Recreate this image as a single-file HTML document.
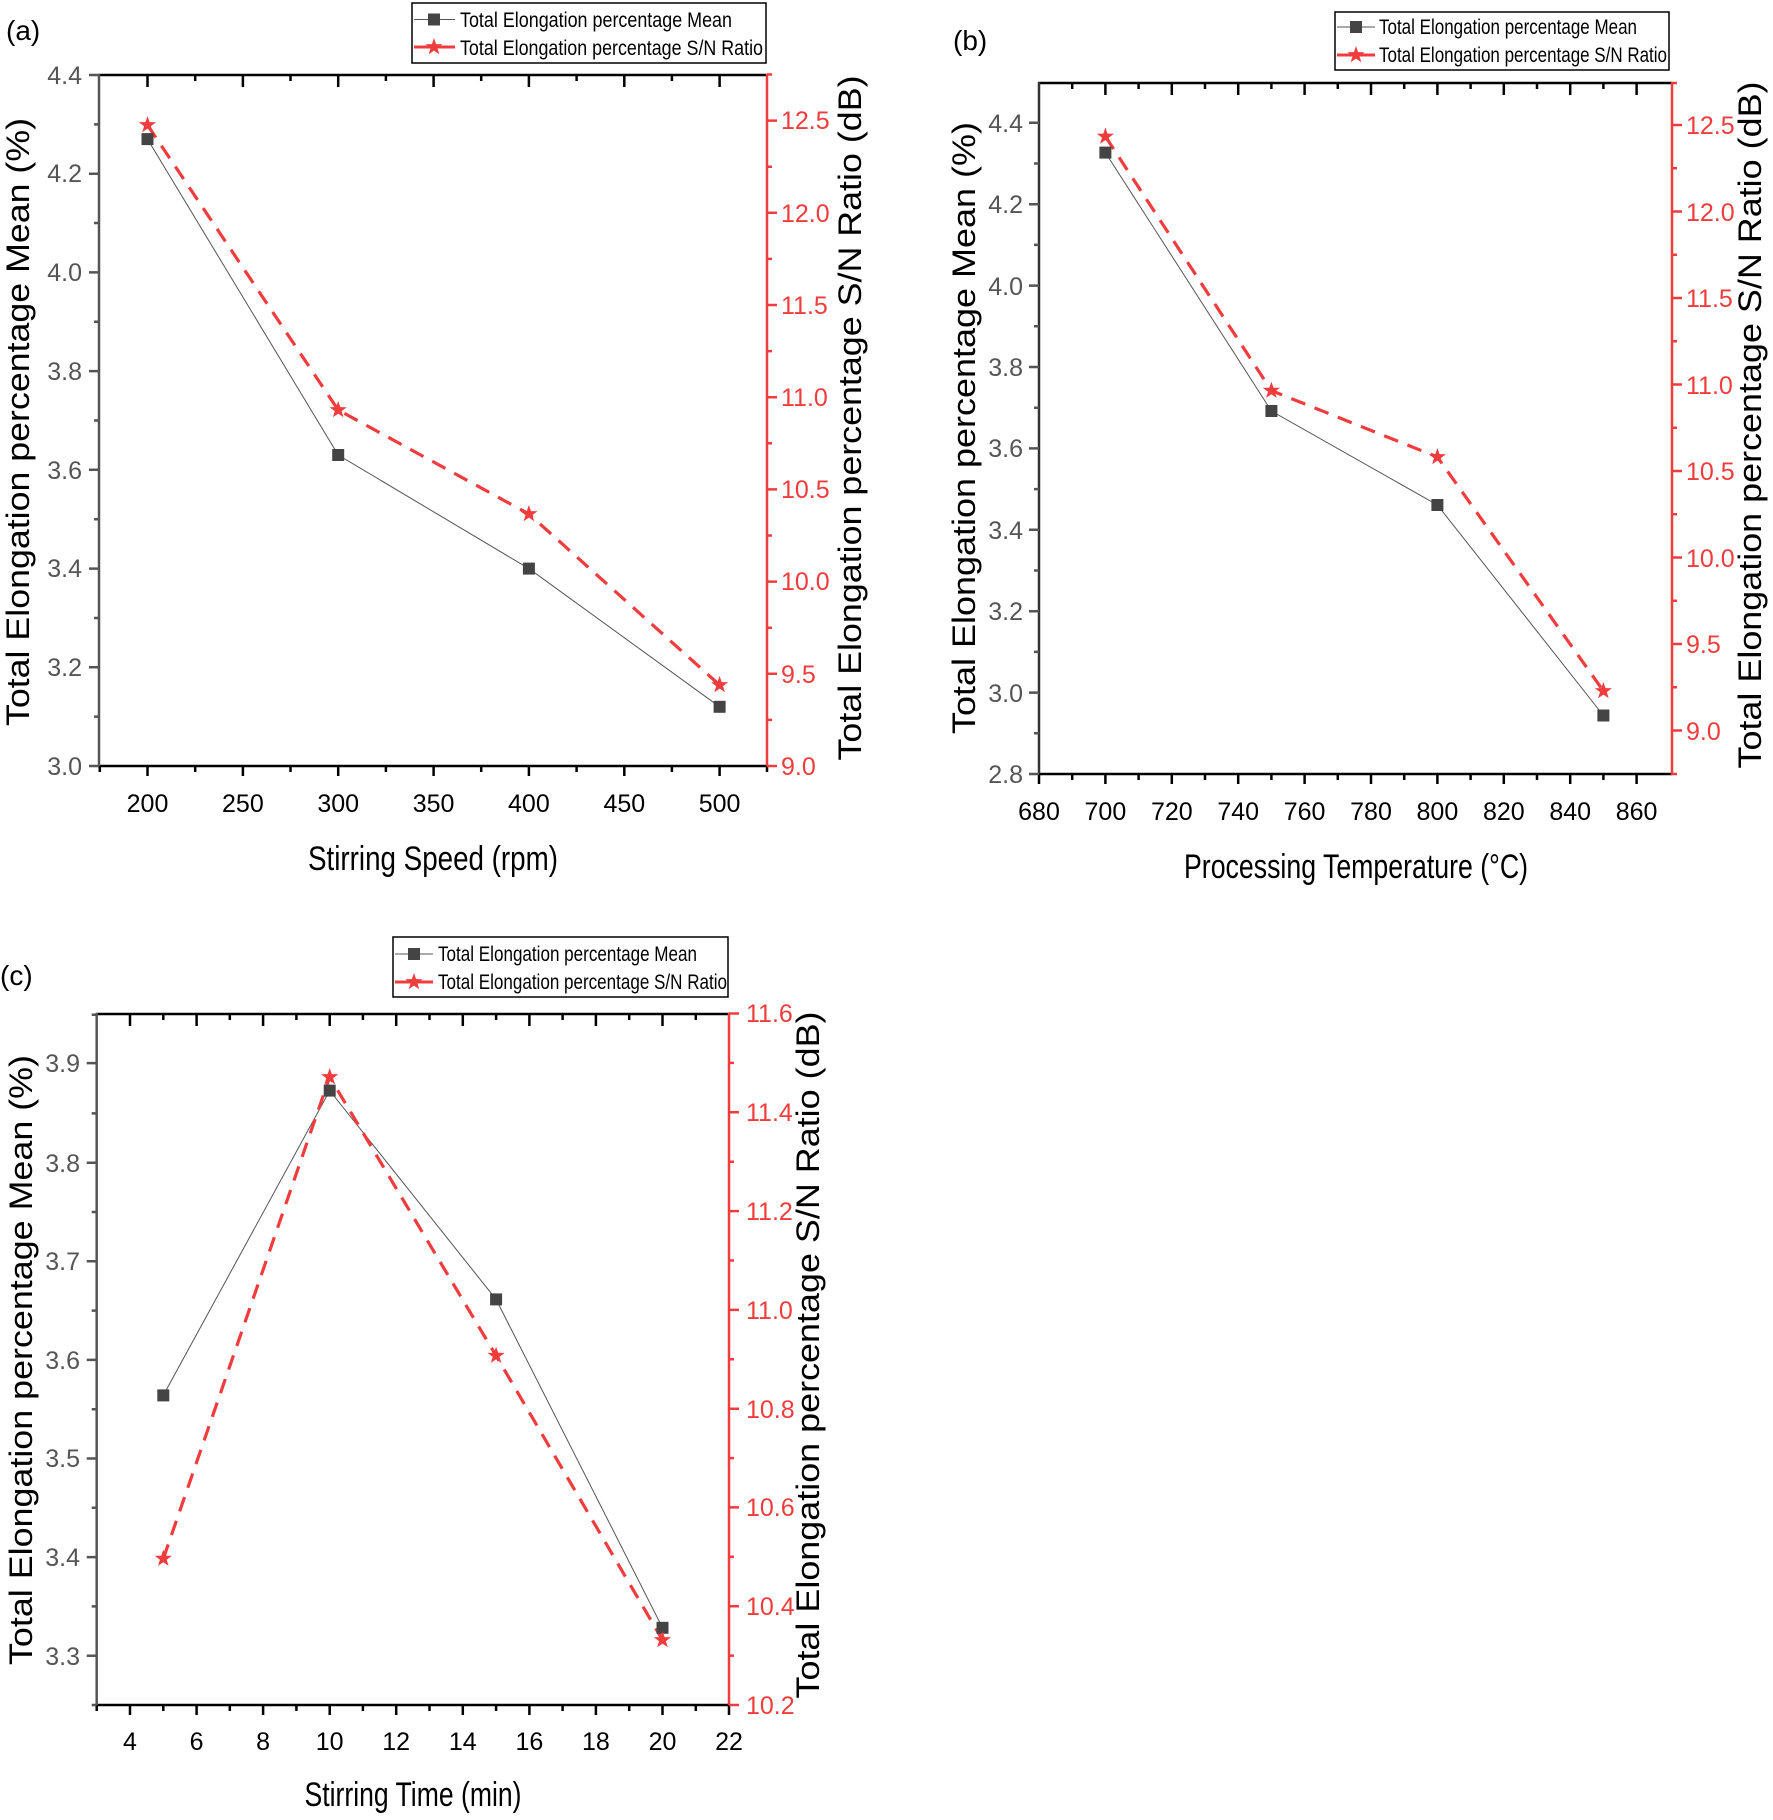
<!DOCTYPE html>
<html><head><meta charset="utf-8"><style>
html,body{margin:0;padding:0;background:#fff;}
svg{display:block;}
text{font-family:"Liberation Sans Narrow","Liberation Sans",sans-serif;}
.tk{font-size:25px;}
.g{fill:#555;}
.r{fill:#f03c3c;}
.k{fill:#000;}
.lg{font-size:21px;fill:#000;}
.at{font-size:32px;fill:#000;}
.xt{font-size:34px;fill:#000;}
</style></head><body>
<svg width="1773" height="1820" viewBox="0 0 1773 1820" xmlns="http://www.w3.org/2000/svg">
<defs>
<path id="st" d="M0,-9 L2.1,-2.9 L8.6,-2.8 L3.4,1.1 L5.3,7.3 L0,3.6 L-5.3,7.3 L-3.4,1.1 L-8.6,-2.8 L-2.1,-2.9 Z" fill="#f03c3c"/>
<rect id="sq" x="-6" y="-6" width="12" height="12" fill="#444"/>
</defs>

<!-- ================= PANEL A ================= -->
<text x="6" y="40" font-size="28" class="k">(a)</text>
<rect x="412" y="3" width="354" height="60" fill="none" stroke="#000" stroke-width="1.5"/>
<line x1="414" y1="19.5" x2="455" y2="19.5" stroke="#555" stroke-width="1"/>
<use href="#sq" x="434" y="19.5"/>
<text x="460" y="27" class="lg" textLength="272" lengthAdjust="spacingAndGlyphs">Total Elongation percentage Mean</text>
<line x1="414" y1="47" x2="455" y2="47" stroke="#f03c3c" stroke-width="3"/>
<use href="#st" x="434" y="47"/>
<text x="460" y="55" class="lg" textLength="303" lengthAdjust="spacingAndGlyphs">Total Elongation percentage S/N Ratio</text>

<!-- axes -->
<line x1="98" y1="75" x2="767" y2="75" stroke="#000" stroke-width="2.5"/>
<line x1="98" y1="766" x2="767" y2="766" stroke="#000" stroke-width="2.5"/>
<line x1="99" y1="74" x2="99" y2="767" stroke="#555" stroke-width="2.5"/>
<line x1="767" y1="74" x2="767" y2="767" stroke="#f03c3c" stroke-width="2.5"/>
<!-- bottom ticks -->
<path d="M147.5,766v10M242.9,766v10M338.2,766v10M433.6,766v10M528.9,766v10M624.3,766v10M719.6,766v10M99.8,766v6M195.2,766v6M290.5,766v6M385.9,766v6M481.2,766v6M576.6,766v6M671.9,766v6M767,766v6" stroke="#000" stroke-width="2.5"/>
<!-- top ticks -->
<path d="M147.5,75v12M242.9,75v12M338.2,75v12M433.6,75v12M528.9,75v12M624.3,75v12M719.6,75v12M195.2,75v6M290.5,75v6M385.9,75v6M481.2,75v6M576.6,75v6M671.9,75v6" stroke="#000" stroke-width="2.5"/>
<!-- left ticks -->
<path d="M99,766h-10M99,667.3h-10M99,568.6h-10M99,469.8h-10M99,371.1h-10M99,272.4h-10M99,173.7h-10M99,75h-10M99,716.6h-5M99,618h-5M99,519.2h-5M99,420.5h-5M99,321.8h-5M99,223h-5M99,124.4h-5" stroke="#555" stroke-width="2.5"/>
<!-- right ticks -->
<path d="M767,766h10M767,673.8h10M767,581.6h10M767,489.4h10M767,397.2h10M767,305h10M767,212.8h10M767,120.6h10M767,719.9h5M767,627.7h5M767,535.5h5M767,443.3h5M767,351.1h5M767,258.9h5M767,166.7h5M767,74.5h5" stroke="#f03c3c" stroke-width="2.5"/>
<!-- tick labels -->
<g class="tk k" text-anchor="middle">
<text x="147.5" y="812">200</text><text x="242.9" y="812">250</text><text x="338.2" y="812">300</text><text x="433.6" y="812">350</text><text x="528.9" y="812">400</text><text x="624.3" y="812">450</text><text x="719.6" y="812">500</text>
</g>
<g class="tk g" text-anchor="end">
<text x="82" y="775">3.0</text><text x="82" y="676">3.2</text><text x="82" y="577">3.4</text><text x="82" y="479">3.6</text><text x="82" y="380">3.8</text><text x="82" y="281">4.0</text><text x="82" y="182">4.2</text><text x="82" y="84">4.4</text>
</g>
<g class="tk r">
<text x="781" y="775">9.0</text><text x="781" y="683">9.5</text><text x="781" y="590">10.0</text><text x="781" y="498">10.5</text><text x="781" y="406">11.0</text><text x="781" y="314">11.5</text><text x="781" y="222">12.0</text><text x="781" y="129">12.5</text>
</g>
<!-- data -->
<polyline points="147.5,139.1 338.2,455 528.9,568.6 719.6,706.8" fill="none" stroke="#555" stroke-width="1"/>
<polyline points="147.5,125 338.2,410 528.9,514 719.6,685" fill="none" stroke="#f03c3c" stroke-width="3.2" stroke-dasharray="15,10"/>
<use href="#sq" x="147.5" y="139.1"/><use href="#sq" x="338.2" y="455"/><use href="#sq" x="528.9" y="568.6"/><use href="#sq" x="719.6" y="706.8"/>
<use href="#st" x="147.5" y="125"/><use href="#st" x="338.2" y="410"/><use href="#st" x="528.9" y="514"/><use href="#st" x="719.6" y="685"/>
<!-- titles -->
<text class="at" x="0" y="0" text-anchor="middle" transform="translate(29,422) rotate(-90)" textLength="608" lengthAdjust="spacingAndGlyphs">Total Elongation percentage Mean (%)</text>
<text class="at" x="0" y="0" text-anchor="middle" transform="translate(861,418) rotate(-90)" textLength="685" lengthAdjust="spacingAndGlyphs">Total Elongation percentage S/N Ratio (dB)</text>
<text class="xt" x="433" y="870" text-anchor="middle" textLength="250" lengthAdjust="spacingAndGlyphs">Stirring Speed (rpm)</text>

<!-- ================= PANEL B ================= -->
<text x="953" y="50" font-size="28" class="k">(b)</text>
<rect x="1335" y="12" width="334" height="58" fill="none" stroke="#000" stroke-width="1.5"/>
<line x1="1337" y1="27" x2="1375" y2="27" stroke="#555" stroke-width="1"/>
<use href="#sq" x="1356" y="27"/>
<text x="1379" y="34" class="lg" textLength="258" lengthAdjust="spacingAndGlyphs">Total Elongation percentage Mean</text>
<line x1="1337" y1="55" x2="1375" y2="55" stroke="#f03c3c" stroke-width="3"/>
<use href="#st" x="1356" y="55"/>
<text x="1379" y="62" class="lg" textLength="288" lengthAdjust="spacingAndGlyphs">Total Elongation percentage S/N Ratio</text>

<line x1="1038" y1="83" x2="1672" y2="83" stroke="#000" stroke-width="2.5"/>
<line x1="1038" y1="774" x2="1672" y2="774" stroke="#000" stroke-width="2.5"/>
<line x1="1039" y1="82" x2="1039" y2="775" stroke="#333" stroke-width="2.5"/>
<line x1="1672" y1="82" x2="1672" y2="775" stroke="#f03c3c" stroke-width="2.5"/>
<path d="M1039,774v10M1105.4,774v10M1171.8,774v10M1238.2,774v10M1304.6,774v10M1371,774v10M1437.4,774v10M1503.8,774v10M1570.2,774v10M1636.6,774v10M1072.2,774v6M1138.6,774v6M1205,774v6M1271.4,774v6M1337.8,774v6M1404.2,774v6M1470.6,774v6M1537,774v6M1603.4,774v6" stroke="#000" stroke-width="2.5"/>
<path d="M1105.4,83v12M1171.8,83v12M1238.2,83v12M1304.6,83v12M1371,83v12M1437.4,83v12M1503.8,83v12M1570.2,83v12M1636.6,83v12M1072.2,83v6M1138.6,83v6M1205,83v6M1271.4,83v6M1337.8,83v6M1404.2,83v6M1470.6,83v6M1537,83v6M1603.4,83v6" stroke="#000" stroke-width="2.5"/>
<path d="M1039,774h-10M1039,692.6h-10M1039,611.2h-10M1039,529.8h-10M1039,448.4h-10M1039,367h-10M1039,285.6h-10M1039,204.2h-10M1039,122.8h-10M1039,733.3h-5M1039,651.9h-5M1039,570.5h-5M1039,489.1h-5M1039,407.7h-5M1039,326.3h-5M1039,244.9h-5M1039,163.5h-5" stroke="#555" stroke-width="2.5"/>
<path d="M1672,730.5h10M1672,644h10M1672,557.5h10M1672,471h10M1672,384.5h10M1672,298h10M1672,211.5h10M1672,125h10M1672,774h5M1672,687.3h5M1672,600.8h5M1672,514.3h5M1672,427.8h5M1672,341.3h5M1672,254.8h5M1672,168.3h5M1672,83h5" stroke="#f03c3c" stroke-width="2.5"/>
<g class="tk k" text-anchor="middle">
<text x="1039" y="820">680</text><text x="1105.4" y="820">700</text><text x="1171.8" y="820">720</text><text x="1238.2" y="820">740</text><text x="1304.6" y="820">760</text><text x="1371" y="820">780</text><text x="1437.4" y="820">800</text><text x="1503.8" y="820">820</text><text x="1570.2" y="820">840</text><text x="1636.6" y="820">860</text>
</g>
<g class="tk g" text-anchor="end">
<text x="1023" y="783">2.8</text><text x="1023" y="702">3.0</text><text x="1023" y="620">3.2</text><text x="1023" y="539">3.4</text><text x="1023" y="457">3.6</text><text x="1023" y="376">3.8</text><text x="1023" y="295">4.0</text><text x="1023" y="213">4.2</text><text x="1023" y="132">4.4</text>
</g>
<g class="tk r">
<text x="1686" y="740">9.0</text><text x="1686" y="653">9.5</text><text x="1686" y="567">10.0</text><text x="1686" y="480">10.5</text><text x="1686" y="394">11.0</text><text x="1686" y="307">11.5</text><text x="1686" y="221">12.0</text><text x="1686" y="134">12.5</text>
</g>
<polyline points="1105.4,152.6 1271.4,411 1437.4,505 1603.4,715.5" fill="none" stroke="#555" stroke-width="1"/>
<polyline points="1105.4,136.5 1271.4,390.6 1437.4,457 1603.4,691" fill="none" stroke="#f03c3c" stroke-width="3.2" stroke-dasharray="15,10"/>
<use href="#sq" x="1105.4" y="152.6"/><use href="#sq" x="1271.4" y="411"/><use href="#sq" x="1437.4" y="505"/><use href="#sq" x="1603.4" y="715.5"/>
<use href="#st" x="1105.4" y="136.5"/><use href="#st" x="1271.4" y="390.6"/><use href="#st" x="1437.4" y="457"/><use href="#st" x="1603.4" y="691"/>
<text class="at" x="0" y="0" text-anchor="middle" transform="translate(975,428) rotate(-90)" textLength="612" lengthAdjust="spacingAndGlyphs">Total Elongation percentage Mean (%)</text>
<text class="at" x="0" y="0" text-anchor="middle" transform="translate(1761,425) rotate(-90)" textLength="687" lengthAdjust="spacingAndGlyphs">Total Elongation percentage S/N Ratio (dB)</text>
<text class="xt" x="1356" y="878" text-anchor="middle" textLength="344" lengthAdjust="spacingAndGlyphs">Processing Temperature (°C)</text>

<!-- ================= PANEL C ================= -->
<text x="0" y="985" font-size="28" class="k">(c)</text>
<rect x="393" y="937" width="335" height="60" fill="none" stroke="#000" stroke-width="1.5"/>
<line x1="395" y1="954" x2="433" y2="954" stroke="#555" stroke-width="1"/>
<use href="#sq" x="414" y="954"/>
<text x="438" y="961" class="lg" textLength="259" lengthAdjust="spacingAndGlyphs">Total Elongation percentage Mean</text>
<line x1="395" y1="982" x2="433" y2="982" stroke="#f03c3c" stroke-width="3"/>
<use href="#st" x="414" y="982"/>
<text x="438" y="989" class="lg" textLength="289" lengthAdjust="spacingAndGlyphs">Total Elongation percentage S/N Ratio</text>

<line x1="96" y1="1014" x2="729" y2="1014" stroke="#000" stroke-width="2.5"/>
<line x1="96" y1="1705" x2="729" y2="1705" stroke="#000" stroke-width="2.5"/>
<line x1="96.7" y1="1013" x2="96.7" y2="1706" stroke="#555" stroke-width="2.5"/>
<line x1="729" y1="1013" x2="729" y2="1706" stroke="#f03c3c" stroke-width="2.5"/>
<path d="M130,1705v10M196.6,1705v10M263.1,1705v10M329.7,1705v10M396.2,1705v10M462.8,1705v10M529.4,1705v10M595.9,1705v10M662.5,1705v10M729,1705v10M96.7,1705v6M163.3,1705v6M229.8,1705v6M296.4,1705v6M362.9,1705v6M429.5,1705v6M496.1,1705v6M562.6,1705v6M629.2,1705v6M695.8,1705v6" stroke="#000" stroke-width="2.5"/>
<path d="M130,1014v12M196.6,1014v12M263.1,1014v12M329.7,1014v12M396.2,1014v12M462.8,1014v12M529.4,1014v12M595.9,1014v12M662.5,1014v12M163.3,1014v6M229.8,1014v6M296.4,1014v6M362.9,1014v6M429.5,1014v6M496.1,1014v6M562.6,1014v6M629.2,1014v6M695.8,1014v6" stroke="#000" stroke-width="2.5"/>
<path d="M96.7,1655.7h-10M96.7,1557.1h-10M96.7,1458.5h-10M96.7,1359.9h-10M96.7,1261.3h-10M96.7,1162.7h-10M96.7,1063.1h-10M96.7,1705h-5M96.7,1606.4h-5M96.7,1507.8h-5M96.7,1409.2h-5M96.7,1310.6h-5M96.7,1212h-5M96.7,1113.4h-5M96.7,1014.8h-5" stroke="#555" stroke-width="2.5"/>
<path d="M729,1705h10M729,1606.2h10M729,1507.4h10M729,1408.7h10M729,1309.9h10M729,1211.1h10M729,1112.3h10M729,1013.5h10M729,1655.6h5M729,1556.8h5M729,1458.1h5M729,1359.3h5M729,1260.5h5M729,1161.7h5M729,1062.9h5" stroke="#f03c3c" stroke-width="2.5"/>
<g class="tk k" text-anchor="middle">
<text x="130" y="1750">4</text><text x="196.6" y="1750">6</text><text x="263.1" y="1750">8</text><text x="329.7" y="1750">10</text><text x="396.2" y="1750">12</text><text x="462.8" y="1750">14</text><text x="529.4" y="1750">16</text><text x="595.9" y="1750">18</text><text x="662.5" y="1750">20</text><text x="729" y="1750">22</text>
</g>
<g class="tk g" text-anchor="end">
<text x="80" y="1665">3.3</text><text x="80" y="1566">3.4</text><text x="80" y="1467">3.5</text><text x="80" y="1369">3.6</text><text x="80" y="1270">3.7</text><text x="80" y="1172">3.8</text><text x="80" y="1072">3.9</text>
</g>
<g class="tk r">
<text x="746" y="1714">10.2</text><text x="746" y="1615">10.4</text><text x="746" y="1516">10.6</text><text x="746" y="1418">10.8</text><text x="746" y="1319">11.0</text><text x="746" y="1220">11.2</text><text x="746" y="1121">11.4</text><text x="746" y="1022">11.6</text>
</g>
<polyline points="163.3,1395.4 329.7,1090.6 496.1,1299.4 662.5,1627.8" fill="none" stroke="#555" stroke-width="1"/>
<polyline points="163.3,1558.6 329.7,1077 496.1,1355.7 662.5,1640" fill="none" stroke="#f03c3c" stroke-width="3.2" stroke-dasharray="15,10"/>
<use href="#sq" x="163.3" y="1395.4"/><use href="#sq" x="329.7" y="1090.6"/><use href="#sq" x="496.1" y="1299.4"/><use href="#sq" x="662.5" y="1627.8"/>
<use href="#st" x="163.3" y="1558.6"/><use href="#st" x="329.7" y="1077"/><use href="#st" x="496.1" y="1355.7"/><use href="#st" x="662.5" y="1640"/>
<text class="at" x="0" y="0" text-anchor="middle" transform="translate(32,1360) rotate(-90)" textLength="610" lengthAdjust="spacingAndGlyphs">Total Elongation percentage Mean (%)</text>
<text class="at" x="0" y="0" text-anchor="middle" transform="translate(819,1355) rotate(-90)" textLength="687" lengthAdjust="spacingAndGlyphs">Total Elongation percentage S/N Ratio (dB)</text>
<text class="xt" x="413" y="1806" text-anchor="middle" textLength="217" lengthAdjust="spacingAndGlyphs">Stirring Time (min)</text>
</svg>
</body></html>
